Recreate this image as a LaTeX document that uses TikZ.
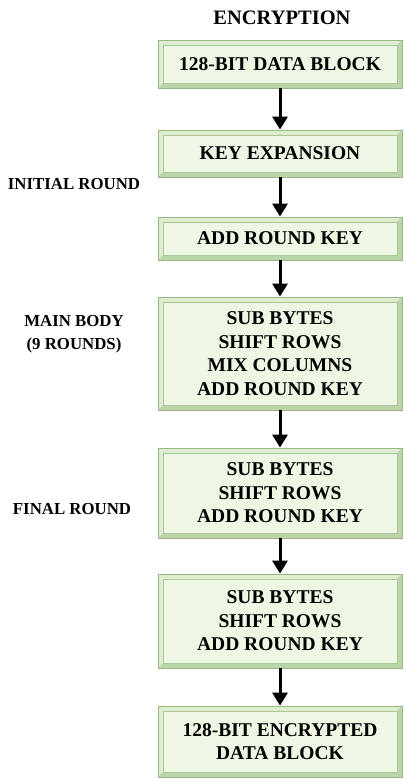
\documentclass[tikz,border=0pt]{standalone}
\usepackage{fontspec}
\setmainfont{Liberation Serif}
\usetikzlibrary{arrows.meta}
\definecolor{boxfill}{RGB}{237,247,228}
\definecolor{bevellight}{RGB}{222,237,208}
\definecolor{beveldark}{RGB}{188,212,170}
\definecolor{boxedge}{RGB}{150,184,130}
\tikzset{
  stepbox/.style={draw=boxedge, line width=0.8pt, fill=bevellight, minimum width=244pt,
    align=center, inner sep=0pt, font=\bfseries\fontsize{19.5}{23.5}\selectfont,
    path picture={
      \coordinate (pnw) at (path picture bounding box.north west);
      \coordinate (pse) at (path picture bounding box.south east);
      \coordinate (pne) at (path picture bounding box.north east);
      \coordinate (psw) at (path picture bounding box.south west);
      \fill[beveldark] (pne) -- (pse) -- (psw) -- ([shift={(5pt,5pt)}]psw) -- ([shift={(-5pt,5pt)}]pse) -- ([shift={(-5pt,-5pt)}]pne) -- cycle;
      \fill[boxfill] ([shift={(5pt,-5pt)}]pnw) rectangle ([shift={(-5pt,5pt)}]pse);
      \draw[boxedge!80, line width=0.5pt] ([shift={(5pt,-5pt)}]pnw) rectangle ([shift={(-5pt,5pt)}]pse);
    }},
  sidelabel/.style={align=center, inner sep=0pt, font=\bfseries\fontsize{16.8}{23}\selectfont},
  arr/.style={line width=3pt, -{Triangle[width=15pt,length=13pt]}}
}
\begin{document}
\begin{tikzpicture}[x=1pt,y=-1pt]
\useasboundingbox (0,0) rectangle (404,779);
\node[font=\bfseries\fontsize{20.5}{24}\selectfont] (title) at (282,18) {ENCRYPTION};
\node[stepbox, minimum height=48pt] (b1) at (280,64) {128-BIT DATA BLOCK};
\node[stepbox, minimum height=47pt] (b2) at (280,153.5) {KEY EXPANSION};
\node[stepbox, minimum height=43pt] (b3) at (280,238.5) {ADD ROUND KEY};
\node[stepbox, minimum height=113pt] (b4) at (280,353.5) {SUB BYTES\\SHIFT ROWS\\MIX COLUMNS\\ADD ROUND KEY};
\node[stepbox, minimum height=90pt] (b5) at (280,493) {SUB BYTES\\SHIFT ROWS\\ADD ROUND KEY};
\node[stepbox, minimum height=94pt] (b6) at (280,621) {SUB BYTES\\SHIFT ROWS\\ADD ROUND KEY};
\node[stepbox, minimum height=71pt] (b7) at (280,741.5) {128-BIT ENCRYPTED\\DATA BLOCK};
\node[sidelabel] (l1) at (74,184) {INITIAL ROUND};
\node[sidelabel] (l2) at (74,334.5) {MAIN BODY\\(9 ROUNDS)};
\node[sidelabel] (l3) at (72,509) {FINAL ROUND};
\draw[arr] (b1.south) -- (b2.north);
\draw[arr] (b2.south) -- (b3.north);
\draw[arr] (b3.south) -- (b4.north);
\draw[arr] (b4.south) -- (b5.north);
\draw[arr] (b5.south) -- (b6.north);
\draw[arr] (b6.south) -- (b7.north);
\end{tikzpicture}
\end{document}
